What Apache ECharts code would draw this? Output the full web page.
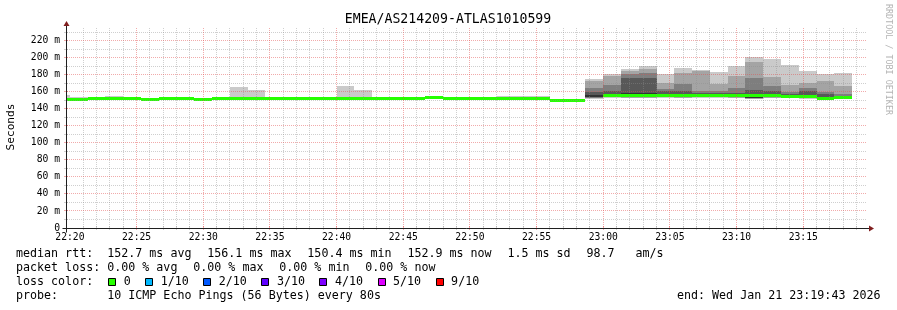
<!DOCTYPE html>
<html><head><meta charset="utf-8">
<script src="https://cdn.jsdelivr.net/npm/echarts@6/dist/echarts.min.js"></script>
<style>html,body{margin:0;padding:0;background:#fff}#c{width:897px;height:310px}</style>
</head><body><div id="c"></div>
<script>
// ---------------- data ----------------
const titleText = 'EMEA/AS214209-ATLAS1010599';
const slotStart = ['22:18:40','22:20:00','22:21:20','22:22:40','22:24:00','22:25:20','22:26:40','22:28:00','22:29:20','22:30:40','22:32:00','22:33:20','22:34:40','22:36:00','22:37:20','22:38:40','22:40:00','22:41:20','22:42:40','22:44:00','22:45:20','22:46:40','22:48:00','22:49:20','22:50:40','22:52:00','22:53:20','22:54:40','22:56:00','22:57:20','22:58:40','23:00:00','23:01:20','23:02:40','23:04:00','23:05:20','23:06:40','23:08:00','23:09:20','23:10:40','23:12:00','23:13:20','23:14:40','23:16:00','23:17:20'];
const stepSeconds = 80;
// sorted ping rtts (ms) per step, ping1 = fastest ... ping10 = slowest
const ping1 = [149.8,149.9,150.0,150.8,150.6,150.2,151.0,150.9,150.1,150.8,150.6,150.6,150.2,150.4,151.1,150.9,150.9,151.2,150.2,150.9,150.3,151.3,151.0,150.8,151.0,151.1,150.9,150.2,149.2,149.3,151.8,152.8,152.3,152.6,152.9,152.5,152.9,152.9,152.5,151.4,152.6,152.3,152.0,150.6,151.0];
const ping2 = [150.2,150.3,150.6,151.2,150.9,150.5,151.4,151.2,150.4,151.2,151.0,150.9,150.6,150.7,151.4,151.3,151.2,151.5,150.6,151.2,150.6,151.7,151.4,151.2,151.3,151.5,151.3,150.6,149.5,149.6,152.4,153.4,152.9,153.1,153.5,153.1,153.4,153.4,153.3,151.8,153.1,152.8,152.5,151.0,151.4];
const ping3 = [150.5,150.6,151.0,151.6,151.2,150.8,151.7,151.5,150.7,151.5,151.3,151.2,151.0,151.0,151.7,151.6,151.5,151.8,151.0,151.5,150.9,152.0,151.7,151.5,151.6,151.8,151.7,150.9,149.8,149.9,153.0,154.0,153.5,153.7,154.0,153.7,154.0,153.9,154.0,152.2,153.6,153.3,153.0,151.5,151.8];
const ping4 = [150.7,150.9,151.5,152.0,151.5,151.0,152.0,151.8,151.0,151.8,151.7,151.5,151.5,151.3,152.0,151.9,151.8,152.1,151.4,151.8,151.2,152.3,152.0,151.8,151.9,152.1,152.0,151.2,150.1,150.2,153.6,154.8,154.2,154.5,154.6,154.3,154.5,154.4,154.6,152.5,154.1,153.8,153.5,152.0,152.2];
const ping5 = [150.9,151.1,152.2,152.3,151.8,151.2,152.3,152.1,151.2,152.1,152.0,151.8,152.0,151.5,152.3,152.1,152.1,152.5,151.9,152.1,151.5,152.7,152.3,152.1,152.2,152.5,152.3,151.5,150.3,150.3,154.3,155.6,154.8,155.2,155.1,154.9,155.0,155.0,155.3,152.8,154.8,154.2,154.0,152.4,152.8];
const ping6 = [151.1,151.3,152.6,152.5,152.0,151.4,152.5,152.3,151.4,152.3,152.4,152.0,152.4,151.7,152.5,152.3,152.3,152.7,152.1,152.3,151.7,152.9,152.5,152.3,152.6,152.7,152.5,151.7,150.5,150.5,156.4,156.6,158.5,159.0,156.5,157.0,156.8,156.5,157.0,157.5,157.0,155.5,156.0,154.5,153.6];
const ping7 = [151.4,151.6,153.0,152.9,152.3,151.7,152.8,152.6,151.7,152.6,152.8,152.4,152.7,152.0,152.8,152.6,152.7,153.1,152.5,152.6,152.0,153.3,152.9,152.6,153.0,153.1,152.9,152.1,150.8,150.8,159.6,160.5,176.5,176.0,160.5,161.3,159.0,158.5,158.6,162.4,161.3,157.5,160.5,157.0,154.5];
const ping8 = [151.8,152.0,153.4,153.3,152.6,152.0,153.1,153.0,152.0,152.9,153.3,153.0,153.0,152.3,153.1,153.2,153.2,153.6,153.0,152.9,152.3,153.8,153.3,153.0,153.4,153.6,153.4,152.6,151.1,151.1,164.6,167.5,181.0,182.4,163.5,169.0,161.5,160.5,165.0,176.7,167.3,160.0,164.4,160.0,157.0];
const ping9 = [152.6,152.6,153.8,153.9,153.0,152.4,153.5,153.6,152.5,153.3,154.2,154.5,153.4,152.7,153.5,153.8,154.0,154.4,153.6,153.3,152.7,154.4,153.8,153.4,153.8,154.2,154.0,153.4,151.5,151.5,173.0,179.0,184.0,187.1,170.0,182.4,184.0,169.5,179.0,195.3,177.8,168.0,170.2,173.0,167.1];
const ping10 = [156.5,153.4,154.2,154.6,153.5,153.0,154.0,154.4,153.1,153.9,165.5,162.5,154.0,153.2,154.0,154.3,166.8,162.4,154.4,153.8,153.3,155.0,154.4,154.0,154.3,155.5,155.0,154.6,152.0,152.1,175.4,181.2,187.1,190.6,181.2,188.2,186.0,183.6,190.6,200.4,198.8,191.5,184.9,181.2,182.4];
const medianRtt = [151.0,151.2,152.4,152.4,151.9,151.3,152.4,152.2,151.3,152.2,152.2,151.9,152.2,151.6,152.4,152.2,152.2,152.6,152.0,152.2,151.6,152.8,152.4,152.2,152.4,152.6,152.4,151.6,150.4,150.4,null,156.1,155.3,155.8,155.5,155.2,155.2,155.4,155.8,155.9,155.4,154.2,154.0,152.5,152.9];

const axisStart = '22:19:47', axisEnd = '23:19:47';
const xTickLabels = ['22:20','22:25','22:30','22:35','22:40','22:45','22:50','22:55','23:00','23:05','23:10','23:15'];
const yTickValues = [0,20,40,60,80,100,120,140,160,180,200,220];
const yMax = 235;

const legendLine1 = ['median rtt:  152.7 ms avg','156.1 ms max','150.4 ms min','152.9 ms now','1.5 ms sd','98.7   am/s'];
const legendLine2 = ['packet loss: 0.00 % avg','0.00 % max','0.00 % min','0.00 % now'];
const lossLabels = ['0','1/10','2/10','3/10','4/10','5/10','9/10'];
const lossColors = ['#26ff00','#00b8ff','#0059ff','#5e00ff','#7e00ff','#dd00ff','#ff0000'];
const probeText = 'probe:       10 ICMP Echo Pings (56 Bytes) every 80s';
const endText = 'end: Wed Jan 21 23:19:43 2026';

// ---------------- style ----------------
const MONO = '"DejaVu Sans Mono", monospace';
const SMOKE_SHADES = ['#cacaca','#a4a4a4','#7e7e7e','#585858','#323232'];
const MEDIAN_COLOR = lossColors[0];
const MINOR_COLOR = 'rgba(140,140,140,0.42)';
const MAJOR_COLOR = 'rgba(225,80,80,0.48)';
const AXIS_COLOR = '#1f1f1f';
const ARROW_COLOR = '#801f1f';
const LEG_CHAR = 7.02, LEG_GAP = 15.8, LEG_FONT = '11.66px ' + MONO;

// ---------------- helpers ----------------
const T0 = 22*3600 + 20*60;
const toSec = s => { const p = s.split(':').map(Number); return p[0]*3600 + p[1]*60 + (p[2]||0) - T0; };
const X_MIN = toSec(axisStart), X_MAX = toSec(axisEnd);
const xTickValues = xTickLabels.map(toSec);

const smokeRows = slotStart.map((s,i) => {
  const a = toSec(s);
  return [a, a + stepSeconds, ping1[i], ping2[i], ping3[i], ping4[i], ping5[i], ping6[i], ping7[i], ping8[i], ping9[i], ping10[i]];
});
const medianRows = [];
slotStart.forEach((s,i) => { if (medianRtt[i] != null) { const a = toSec(s); medianRows.push([a, a + stepSeconds, medianRtt[i]]); } });

// grid line rows: [orientation 0=vertical/1=horizontal, value, major?]
const gridRows = [];
for (let t = 60; t < X_MAX; t += 60) gridRows.push([0, t, xTickValues.includes(t) ? 1 : 0]);
for (let v = 10; v < yMax; v += 10) gridRows.push([1, v, yTickValues.includes(v) ? 1 : 0]);
gridRows.sort((a,b) => a[2] - b[2]);

function renderSmoke(params, api) {
  const s = api.value(0), e = api.value(1);
  const kids = [];
  for (let k = 0; k < 5; k++) {
    const lo = api.value(2 + k), hi = api.value(11 - k);
    const tl = api.coord([s, hi]), br = api.coord([e, lo]);
    const x0 = Math.round(tl[0]), x1 = Math.round(br[0]);
    const y0 = Math.round(tl[1]), y1 = Math.round(br[1]);
    kids.push({type:'rect', shape:{x:x0, y:y0, width:x1-x0, height:Math.max(1, y1-y0)}, style:{fill:SMOKE_SHADES[k]}});
  }
  return {type:'group', children:kids};
}
function renderMedian(params, api) {
  const s = api.value(0), e = api.value(1), m = api.value(2);
  const a = api.coord([s, m]), b = api.coord([e, m]);
  const x0 = Math.round(a[0]), x1 = Math.round(b[0]);
  const y0 = Math.round(a[1] - 1.5);
  return {type:'rect', shape:{x:x0, y:y0, width:x1-x0, height:3}, style:{fill:MEDIAN_COLOR}};
}
function renderGrid(params, api) {
  const cs = params.coordSys;
  const vert = api.value(0) === 0, v = api.value(1), major = api.value(2) === 1;
  const color = major ? MAJOR_COLOR : MINOR_COLOR;
  if (vert) {
    const px = Math.floor(api.coord([v, 0])[0]) + 0.5;
    const yb = cs.y + cs.height;
    return {type:'group', children:[
      {type:'line', shape:{x1:px, y1:cs.y, x2:px, y2:yb}, style:{stroke:color, lineWidth:1, lineDash:[1,1]}},
      {type:'line', shape:{x1:px, y1:yb-2, x2:px, y2:yb+2}, style:{stroke:color, lineWidth:1}}
    ]};
  } else {
    const py = Math.floor(api.coord([X_MIN, v])[1]) + 0.5;
    return {type:'group', children:[
      {type:'line', shape:{x1:cs.x, y1:py, x2:cs.x+cs.width, y2:py}, style:{stroke:color, lineWidth:1, lineDash:[1,1]}},
      {type:'line', shape:{x1:cs.x-3, y1:py, x2:cs.x+1, y2:py}, style:{stroke:color, lineWidth:1}}
    ]};
  }
}
function fmtTime(v) {
  const i = xTickValues.indexOf(v);
  return i >= 0 ? xTickLabels[i] : '';
}

const chart = echarts.init(document.getElementById('c'), null, {renderer:'canvas'});
chart.setOption({
  animation: false,
  backgroundColor: '#ffffff',
  grid: {left: 67, top: 28, width: 800, height: 200, containLabel: false, outerBoundsMode: 'none'},
  xAxis: {
    type: 'value', min: X_MIN, max: X_MAX,
    axisLine: {show: false}, axisTick: {show: false}, splitLine: {show: false},
    axisLabel: {customValues: xTickValues, formatter: fmtTime, fontFamily: 'DejaVu Sans Mono', fontSize: 9.7, color: '#000', margin: 4}
  },
  yAxis: {
    type: 'value', min: 0, max: yMax,
    axisLine: {show: false}, axisTick: {show: false}, splitLine: {show: false},
    axisLabel: {customValues: yTickValues, formatter: v => v === 0 ? '0' : v + ' m', fontFamily: 'DejaVu Sans Mono', fontSize: 9.7, color: '#000', margin: 7}
  },
  series: [
    {type:'custom', name:'smoke', renderItem: renderSmoke, data: smokeRows, clip: true, z: 1, silent: true,
     encode: {x: [0,1], y: [2,3,4,5,6,7,8,9,10,11]}},
    {type:'custom', name:'median', renderItem: renderMedian, data: medianRows, clip: true, z: 2, silent: true,
     encode: {x: [0,1], y: [2]}},
    {type:'custom', name:'grid', renderItem: renderGrid, data: gridRows, clip: false, z: 3, silent: true,
     encode: {x: [1], y: [1]}}
  ]
});

// ---------- axes, arrows and text ----------
const o = chart.convertToPixel({gridIndex:0}, [X_MIN, 0]);
const e = chart.convertToPixel({gridIndex:0}, [X_MAX, yMax]);
const ax = o[0] - 0.5, ay = Math.floor(o[1]) + 0.5, ex = e[0], ey = e[1];
const g = [];
g.push({type:'line', shape:{x1:ax-4, y1:ay, x2:ex+4, y2:ay}, style:{stroke:AXIS_COLOR, lineWidth:1}, z:10});
g.push({type:'line', shape:{x1:ax, y1:ay+4, x2:ax, y2:ey-4}, style:{stroke:AXIS_COLOR, lineWidth:1}, z:10});
g.push({type:'polygon', shape:{points:[[ex+2, ay-3],[ex+2, ay+3],[ex+7, ay]]}, style:{fill:ARROW_COLOR}, z:10});
g.push({type:'polygon', shape:{points:[[ax-3, ey-2],[ax+3, ey-2],[ax, ey-7]]}, style:{fill:ARROW_COLOR}, z:10});
function txt(x, y, text, font, opts) {
  return Object.assign({type:'text', x:x, y:y, z:10, style:Object.assign({text:text, font:font, fill:'#000', textAlign:'left', textVerticalAlign:'middle', verticalAlign:'middle'}, (opts && opts.style) || {})}, (opts && opts.el) || {});
}
g.push(txt(448, 19.5, titleText, '13.2px ' + MONO, {style:{textAlign:'center'}}));
g.push(txt(11, 127, 'Seconds', '11.2px ' + MONO, {style:{textAlign:'center'}, el:{rotation: Math.PI/2}}));
g.push(txt(888.5, 59.5, 'RRDTOOL / TOBI OETIKER', '8.4px ' + MONO, {style:{textAlign:'center', fill:'#b4b4b4'}, el:{rotation: -Math.PI/2}}));
let lx = 16;
legendLine1.forEach(s => { g.push(txt(lx, 254.3, s, LEG_FONT)); lx += s.length*LEG_CHAR + LEG_GAP; });
lx = 16;
legendLine2.forEach(s => { g.push(txt(lx, 268.3, s, LEG_FONT)); lx += s.length*LEG_CHAR + LEG_GAP; });
g.push(txt(16, 282.3, 'loss color:', LEG_FONT));
lx = 108.7;
lossLabels.forEach((s, i) => {
  g.push({type:'rect', z:10, shape:{x:Math.floor(lx)+0.5, y:278.5, width:7, height:7}, style:{fill:lossColors[i], stroke:'#000', lineWidth:1}});
  g.push(txt(lx + 15, 282.3, s, LEG_FONT));
  lx += 15 + s.length*LEG_CHAR + 15;
});
g.push(txt(16, 296, probeText, LEG_FONT));
g.push(txt(880.5, 296, endText, LEG_FONT, {style:{textAlign:'right'}}));
chart.setOption({graphic: {elements: g}});
</script>
</body></html>
